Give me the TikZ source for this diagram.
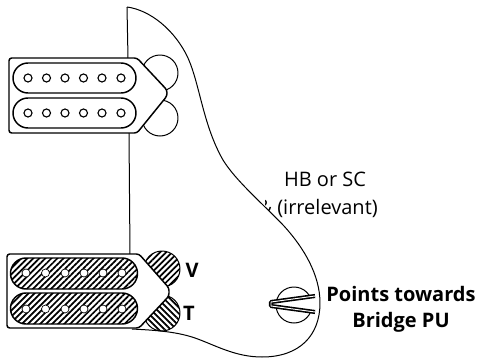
\documentclass[tikz,border=0pt]{standalone}
\usepackage{fontspec}
\setmainfont{Open Sans}
\usetikzlibrary{patterns.meta}
\tikzset{
  px/.style={x=0.75pt,y=-0.75pt},
  line/.style={draw=black,line width=0.75pt,line join=round},
  thick line/.style={draw=black,line width=1.1pt,line join=round},
  hatchup/.style={pattern={Lines[angle=45,distance=3.2pt,line width=1.3pt]},pattern color=black},
  hatchdown/.style={pattern={Lines[angle=-45,distance=3.2pt,line width=1.3pt]},pattern color=black},
  pole/.style={circle,draw=black,fill=white,line width=0.85pt,minimum size=6pt,inner sep=0pt},
  plabel/.style={font=\fontsize{15}{18}\selectfont,align=center,inner sep=0pt},
  blabel/.style={font=\fontsize{15}{18}\selectfont\bfseries,align=center,inner sep=0pt},
  bodyshape/.style={insert path={(127,7) .. controls (150,10) and (175,30) .. (188,58)
  .. controls (200,85) and (203,125) .. (223,160)
  .. controls (236,181) and (262,203) .. (284,226)
  .. controls (304,248) and (320,275) .. (320,303)
  .. controls (320,335) and (300,357) .. (262,357)
  .. controls (235,357) and (215,345) .. (195,338)
  .. controls (175,331) and (150,330) .. (132,329)}}
}
\begin{document}
\begin{tikzpicture}[px]
\useasboundingbox (0,0) rectangle (480,358);
% labels behind the body
\node[plabel] (hb) at (325,179) {HB or SC};
\node[plabel,anchor=east] (irr) at (378,208) {\& (irrelevant)};
% body
\path[fill=white,bodyshape] -- cycle;
\fill[white] (254,195) rectangle (265,218);
\draw[line,bodyshape];
\coordinate (b0) at (127,7);
\coordinate (b1) at (128,58);
\coordinate (b2) at (129,133);
\coordinate (b3) at (130,254);
\draw[line] (b0) -- (b1);
\draw[line] (b2) -- (b3);
% top pots
\draw[line] (160,73) circle (18);
\draw[line] (160,118) circle (18);
% top pickup
\path[thick line,fill=white,rounded corners=2pt] (9,58) -- (137,58) -- (167,90) -- (167,96) -- (137,133) -- (9,133) -- cycle;
\draw[thick line] (28,63) -- (121,63) arc (-90:90:15) -- (28,93) arc (90:270:15) -- cycle;
\draw[thick line] (28,98) -- (121,98) arc (-90:90:15) -- (28,128) arc (90:270:15) -- cycle;
\foreach \x [count=\i] in {28,46.5,65,83.5,102,121} {
  \node[pole] (ta\i) at (\x,78) {};
  \node[pole] (tb\i) at (\x,113) {};
}
% bottom pots
\path[hatchup] (162,269) circle (18);
\draw[line] (162,269) circle (18);
\path[hatchdown] (162,313) circle (18);
\draw[line] (162,313) circle (18);
% bottom pickup
\path[thick line,fill=white,rounded corners=2pt] (7,254) -- (139,254) -- (169,288) -- (169,296) -- (139,328) -- (7,328) -- cycle;
\draw[thick line,hatchup] (26,258) -- (122,258) arc (-90:90:15.5) -- (26,289) arc (90:270:15.5) -- cycle;
\draw[thick line,hatchup] (26,293) -- (122,293) arc (-90:90:15.5) -- (26,324) arc (90:270:15.5) -- cycle;
\foreach \x [count=\i] in {26,45.5,65,84,103,122} {
  \node[pole,line width=0.5pt] (ba\i) at (\x,273) {};
  \node[pole,line width=0.5pt] (bb\i) at (\x,309) {};
}
% knob
\draw[line] (294,305) circle (18);
\draw[draw=black,line width=1.2pt,line join=round,fill=white,double=white,double distance=0.7pt] (315,296) -- (271,302) -- (271,306) -- (315,312);
% labels
\node[blabel] (v) at (192,270) {V};
\node[blabel] (t) at (189,313) {T};
\node[blabel] (pt) at (401,294) {Points towards};
\node[blabel] (br) at (401,322) {Bridge PU};
\end{tikzpicture}
\end{document}
